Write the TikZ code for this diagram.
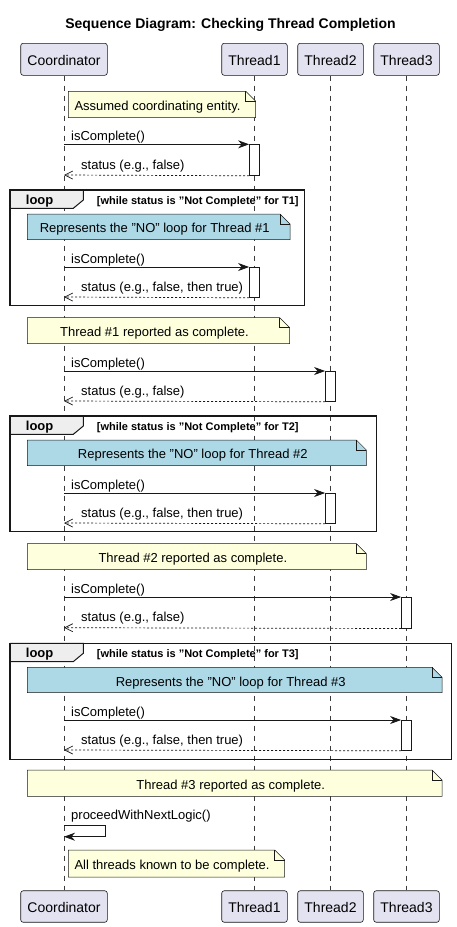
\documentclass[tikz,border=0pt]{standalone}
\usepackage{fontspec}
\setmainfont{Liberation Sans}
\usetikzlibrary{arrows.meta}
\definecolor{partfill}{HTML}{E2E2F0}
\definecolor{bord}{HTML}{181818}
\definecolor{notey}{HTML}{FEFFDD}
\definecolor{noteb}{HTML}{ADD8E6}
\definecolor{tabfill}{HTML}{EEEEEE}
\newcommand\mynote[2]{%
  \filldraw[notebd, fill=#2] (#1.north west) -- ([xshift=-10pt]#1.north east) -- ([yshift=-10pt]#1.north east) -- (#1.south east) -- (#1.south west) -- cycle;
  \draw[notebd] ([xshift=-10pt]#1.north east) |- ([yshift=-10pt]#1.north east);}
\newcommand\myloop[2]{%
  \filldraw[tab] (#1.north west) -- ([shift={(73.3,0)}]#1.north west) -- ([shift={(73.3,10)}]#1.north west) -- ([shift={(63.3,18.3)}]#1.north west) -- ([shift={(0,18.3)}]#1.north west);
  \draw[loopf] (#1.north west) rectangle (#1.south east);
  \node[lbl, anchor=base west] (#1-tab) at ([shift={(15.7,14)}]#1.north west) {loop};
  \node[cond, anchor=base west] (#1-cond) at ([shift={(86.7,14.5)}]#1.north west) {[while status is "Not Complete" for #2]};}
\tikzset{
  part/.style={draw=bord, fill=partfill, rounded corners=2.5pt, line width=0.6pt, font=\fontsize{14}{16}\selectfont, inner sep=0pt, text height=12.5pt, text depth=0pt},
  life/.style={draw=bord!85, dash pattern=on 5pt off 5pt, line width=0.5pt},
  box/.style={inner sep=0pt, draw=none, anchor=north west},
  notebd/.style={draw=bord, line width=0.5pt},
  txt/.style={font=\fontsize{13}{15}\selectfont, inner sep=0pt},
  call/.style={draw=bord, line width=0.8pt, -{Stealth[length=11pt,width=8pt,inset=3.5pt]}},
  ret/.style={draw=bord, line width=0.7pt, dash pattern=on 2pt off 2pt, -{Straight Barb[length=8pt,width=8pt]}},
  act/.style={draw=bord, fill=white, line width=0.8pt, minimum width=10pt, inner sep=0pt, anchor=north},
  loopfr/.style={inner sep=0pt, draw=none, anchor=north west},
  loopf/.style={draw=bord, line width=1.5pt},
  tab/.style={draw=bord, fill=tabfill, line width=1pt},
  lbl/.style={font=\bfseries\fontsize{13}{15}\selectfont, inner sep=0pt},
  cond/.style={font=\bfseries\fontsize{11}{13}\selectfont, inner sep=0pt},
}
\begin{document}
\begin{tikzpicture}[x=1pt,y=-1pt]
\useasboundingbox[fill=white] (0,0) rectangle (456,927);
\node[font=\bfseries\fontsize{14}{16}\selectfont, anchor=base, inner sep=0pt] (title) at (230.5,28.5) {Sequence Diagram: Checking Thread Completion};
% participants
\node[part, minimum width=86.6pt, minimum height=32pt] (cT) at (64,59.3) {Coordinator};
\node[part, minimum width=65.6pt, minimum height=32pt] (t1T) at (254.5,59.3) {Thread1};
\node[part, minimum width=65.6pt, minimum height=32pt] (t2T) at (330.5,59.3) {Thread2};
\node[part, minimum width=65.6pt, minimum height=32pt] (t3T) at (406.5,59.3) {Thread3};
\node[part, minimum width=86.6pt, minimum height=31.5pt] (cB) at (64,906.5) {Coordinator};
\node[part, minimum width=65.6pt, minimum height=31.5pt] (t1B) at (254.5,906.5) {Thread1};
\node[part, minimum width=65.6pt, minimum height=31.5pt] (t2B) at (330.5,906.5) {Thread2};
\node[part, minimum width=65.6pt, minimum height=31.5pt] (t3B) at (406.5,906.5) {Thread3};
\draw[life] (cT.south) -- (cB.north);
\draw[life] (t1T.south) -- (t1B.north);
\draw[life] (t2T.south) -- (t2B.north);
\draw[life] (t3T.south) -- (t3B.north);
% note 1
\node[box, minimum width=187pt, minimum height=26pt] (n1) at (68.3,91.3) {};
\mynote{n1}{notey}
\node[txt, anchor=base west] (n1t) at ([shift={(6,6)}]n1.west) {Assumed coordinating entity.};
% trip 1
\node[act, minimum height=30.7pt] (a1) at (254.5,144.3) {};
\coordinate (c1) at (64,144.3);
\coordinate (c1r) at (64,175);
\draw[call] (c1) -- (a1.north west);
\draw[ret] (a1.south west) -- (c1r);
\node[txt, anchor=base west] (l1) at (71,140.5) {isComplete()};
\node[txt, anchor=base west] (l1r) at (81,169) {status (e.g., false)};
% loop 1
\node[loopfr, minimum width=294pt, minimum height=115.3pt] (L1) at (10,190) {};
\myloop{L1}{T1}
\node[box, minimum width=262.4pt, minimum height=25.3pt] (nb1) at (27.3,214) {};
\mynote{nb1}{noteb}
\node[txt, anchor=base] (nb1t) at ([shift={(-4,6)}]nb1.center) {Represents the "NO" loop for Thread \#1};
\node[act, minimum height=30pt] (a2) at (254.5,267) {};
\coordinate (c2) at (64,267);
\coordinate (c2r) at (64,297);
\draw[call] (c2) -- (a2.north west);
\draw[ret] (a2.south west) -- (c2r);
\node[txt, anchor=base west] (l2) at (71,263.2) {isComplete()};
\node[txt, anchor=base west] (l2r) at (81,291) {status (e.g., false, then true)};
% note done 1
\node[box, minimum width=262pt, minimum height=25.6pt] (nd1) at (27.3,317.7) {};
\mynote{nd1}{notey}
\node[txt, anchor=base] (nd1t) at ([shift={(-4,6)}]nd1.center) {Thread \#1 reported as complete.};
% trip 3
\node[act, minimum height=30pt] (a3) at (330.5,371) {};
\coordinate (c3) at (64,371);
\coordinate (c3r) at (64,401);
\draw[call] (c3) -- (a3.north west);
\draw[ret] (a3.south west) -- (c3r);
\node[txt, anchor=base west] (l3) at (71,367.2) {isComplete()};
\node[txt, anchor=base west] (l3r) at (81,395) {status (e.g., false)};
% loop 2
\node[loopfr, minimum width=366pt, minimum height=115.3pt] (L2) at (10,416) {};
\myloop{L2}{T2}
\node[box, minimum width=338.7pt, minimum height=25.3pt] (nb2) at (27.3,440) {};
\mynote{nb2}{noteb}
\node[txt, anchor=base] (nb2t) at ([shift={(-4,6)}]nb2.center) {Represents the "NO" loop for Thread \#2};
\node[act, minimum height=30pt] (a4) at (330.5,493) {};
\coordinate (c4) at (64,493);
\coordinate (c4r) at (64,523);
\draw[call] (c4) -- (a4.north west);
\draw[ret] (a4.south west) -- (c4r);
\node[txt, anchor=base west] (l4) at (71,489.2) {isComplete()};
\node[txt, anchor=base west] (l4r) at (81,517) {status (e.g., false, then true)};
% note done 2
\node[box, minimum width=338.7pt, minimum height=25.6pt] (nd2) at (27.3,543.7) {};
\mynote{nd2}{notey}
\node[txt, anchor=base] (nd2t) at ([shift={(-4,6)}]nd2.center) {Thread \#2 reported as complete.};
% trip 5
\node[act, minimum height=30.7pt] (a5) at (406.5,597) {};
\coordinate (c5) at (64,597);
\coordinate (c5r) at (64,627.7);
\draw[call] (c5) -- (a5.north west);
\draw[ret] (a5.south west) -- (c5r);
\node[txt, anchor=base west] (l5) at (71,593.2) {isComplete()};
\node[txt, anchor=base west] (l5r) at (81,621.7) {status (e.g., false)};
% loop 3
\node[loopfr, minimum width=441pt, minimum height=115.7pt] (L3) at (10,643.3) {};
\myloop{L3}{T3}
\node[box, minimum width=414.4pt, minimum height=25pt] (nb3) at (27.3,667.3) {};
\mynote{nb3}{noteb}
\node[txt, anchor=base] (nb3t) at ([shift={(-4,6)}]nb3.center) {Represents the "NO" loop for Thread \#3};
\node[act, minimum height=30pt] (a6) at (406.5,720) {};
\coordinate (c6) at (64,720);
\coordinate (c6r) at (64,750);
\draw[call] (c6) -- (a6.north west);
\draw[ret] (a6.south west) -- (c6r);
\node[txt, anchor=base west] (l6) at (71,716.2) {isComplete()};
\node[txt, anchor=base west] (l6r) at (81,744) {status (e.g., false, then true)};
% note done 3
\node[box, minimum width=414.4pt, minimum height=26pt] (nd3) at (27.3,770) {};
\mynote{nd3}{notey}
\node[txt, anchor=base] (nd3t) at ([shift={(-4,6)}]nd3.center) {Thread \#3 reported as complete.};
% self message
\coordinate (p1) at (64,825);
\coordinate (p2) at (64,836.7);
\draw[call] (p1) -- ++(41.7,0) |- (p2);
\node[txt, anchor=base west] (lp) at (71,819) {proceedWithNextLogic()};
% final note
\node[box, minimum width=216pt, minimum height=26.7pt] (nf) at (68.3,850) {};
\mynote{nf}{notey}
\node[txt, anchor=base west] (nft) at ([shift={(6,6)}]nf.west) {All threads known to be complete.};
\end{tikzpicture}
\end{document}
